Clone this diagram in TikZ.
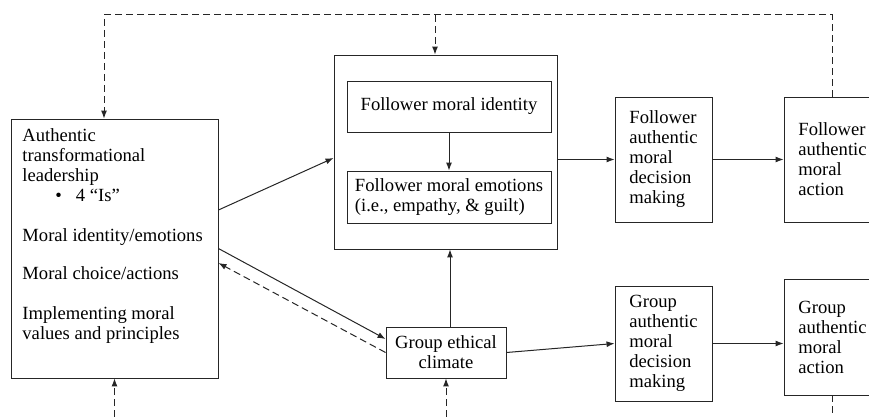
\documentclass[tikz,border=0pt]{standalone}
\usepackage{fontspec}
\setmainfont{Liberation Serif}
\usetikzlibrary{arrows.meta}
\begin{document}
\begin{tikzpicture}
  [x=1pt,y=-1pt,
   every node/.style={draw=black!85, line width=.9pt, inner sep=0pt,
     font=\fontsize{18.6}{20}\selectfont},
   arr/.style={-{Latex[length=8pt,width=6pt]}, line width=1pt, black!85},
   fb/.style={arr, dash pattern=on 7pt off 4pt},
   fbline/.style={line width=1pt, black!85, dash pattern=on 7pt off 4pt}]
  \useasboundingbox (0,0) rectangle (869,417);
  \clip (0,0) rectangle (869,417);

  % boxes
  \node[minimum width=207pt, minimum height=259pt] (lead) at (114.5,248.5) {};
  \node[draw=none, anchor=north west, align=left] (leadtxt) at (22,128)
    {Authentic\\transformational\\leadership\\
     \hspace*{33pt}\textbullet\hspace{14pt}4 ``Is''\\[20pt]
     Moral identity/emotions\\[18pt]
     Moral choice/actions\\[20pt]
     Implementing moral\\values and principles};
  \node[minimum width=223pt, minimum height=194pt] (outer) at (445.5,152) {};
  \node[minimum width=204pt, minimum height=51pt] (ident) at (449,106.5)
    {Follower moral identity};
  \node[minimum width=204pt, minimum height=52pt, align=left] (emot) at (449,197)
    {Follower moral emotions\\(i.e., empathy, \& guilt)};
  \node[minimum width=97pt, minimum height=125pt, align=left] (fdm) at (663.5,159.5)
    {Follower\\authentic\\moral\\decision\\making};
  \node[minimum width=97pt, minimum height=125pt, align=left] (fma) at (832.5,159.5)
    {Follower\\authentic\\moral\\action};
  \node[minimum width=120pt, minimum height=51pt, align=center] (gec) at (446,352.5)
    {Group ethical\\climate};
  \node[minimum width=97pt, minimum height=115pt, align=left] (gdm) at (663.5,343.5)
    {Group\\authentic\\moral\\decision\\making};
  \node[minimum width=97pt, minimum height=116pt, align=left] (gma) at (832.5,337)
    {Group\\authentic\\moral\\action};

  % helper points
  \coordinate (top) at (0,15);
  \coordinate (bot) at (0,417);
  \coordinate (tl) at ([xshift=-10.5pt]lead.north);
  \coordinate (tb) at ([xshift=-10.5pt]outer.north);
  \coordinate (gup) at ([xshift=4pt]gec.north);

  % solid links
  \path[arr]
    ([yshift=38.5pt]lead.east) edge ([yshift=-6pt]outer.west)
    (outer.east |- fdm.west) edge (fdm.west)
    (fdm.east) edge (fma.west)
    (ident.south) edge (emot.north)
    (gup) edge (gup |- outer.south)
    (lead.east) edge ([yshift=13.5pt]gec.west)
    (gec.east) edge (gdm.west)
    (gdm.east) edge (gdm.east -| gma.west)
  ;

  % feedback links
  \draw[fb] (gec.west) -- ([yshift=-14.5pt]lead.east);
  \draw[fb] (fma.north) -- (fma.north |- top) -- (tl |- top) -- (tl);
  \draw[fb] (tb |- top) -- (tb);
  \draw[fb] (lead.south |- bot) -- (lead.south);
  \draw[fb] (gec.south |- bot) -- (gec.south);
  \draw[fbline] (gma.south) -- (gma.south |- bot);
\end{tikzpicture}
\end{document}
